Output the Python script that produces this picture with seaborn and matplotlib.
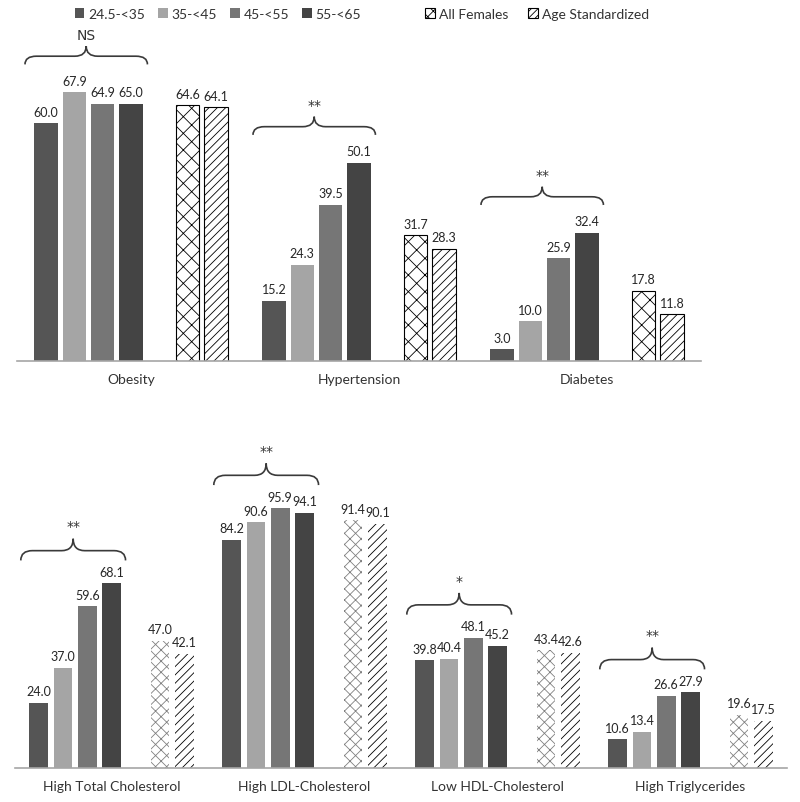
import numpy as np
import pandas as pd
import seaborn as sns
import matplotlib.pyplot as plt
from matplotlib.patches import Patch, PathPatch
from matplotlib.path import Path

# age groups + spacer + summary series
age_groups = ["24.5-<35", "35-<45", "45-<55", "55-<65"]
summary_series = ["All Females", "Age Standardized"]
hue_levels = age_groups + [" "] + summary_series

# top panel
top_cats = ["Obesity", "Hypertension", "Diabetes"]
top_age1 = [60.0, 15.2, 3.0]
top_age2 = [67.9, 24.3, 10.0]
top_age3 = [64.9, 39.5, 25.9]
top_age4 = [65.0, 50.1, 32.4]
top_all = [64.6, 31.7, 17.8]
top_std = [64.1, 28.3, 11.8]
top_sig = ["NS", "**", "**"]

# bottom panel
bot_cats = ["High Total Cholesterol", "High LDL-Cholesterol",
            "Low HDL-Cholesterol", "High Triglycerides"]
bot_age1 = [24.0, 84.2, 39.8, 10.6]
bot_age2 = [37.0, 90.6, 40.4, 13.4]
bot_age3 = [59.6, 95.9, 48.1, 26.6]
bot_age4 = [68.1, 94.1, 45.2, 27.9]
bot_all = [47.0, 91.4, 43.4, 19.6]
bot_std = [42.1, 90.1, 42.6, 17.5]
bot_sig = ["**", "**", "*", "**"]

colors = {"24.5-<35": "#555555", "35-<45": "#a5a5a5", "45-<55": "#767676",
          "55-<65": "#444444", " ": "white", "All Females": "white",
          "Age Standardized": "white"}


def make_df(cats, series_vals):
    rows = []
    for name, vals in zip(age_groups + summary_series, series_vals):
        for c, v in zip(cats, vals):
            rows.append({"cat": c, "group": name, "value": v})
    return pd.DataFrame(rows)


def brace(ax, x0, x1, y0, h, r):
    xm = (x0 + x1) / 2
    yh = y0 + h * 0.45
    verts = [(x0, y0), (x0, yh), (x0 + r, yh),
             (xm - r, yh),
             (xm, yh), (xm, y0 + h),
             (xm, yh), (xm + r, yh),
             (x1 - r, yh),
             (x1, yh), (x1, y0)]
    codes = [Path.MOVETO, Path.CURVE3, Path.CURVE3,
             Path.LINETO,
             Path.CURVE3, Path.CURVE3,
             Path.CURVE3, Path.CURVE3,
             Path.LINETO,
             Path.CURVE3, Path.CURVE3]
    ax.add_patch(PathPatch(Path(verts, codes), facecolor="none",
                           edgecolor="#3a3a3a", lw=1.2, clip_on=False))


def draw_panel(ax, cats, series_vals, sig, width, gap, ymax, top_style,
               brace_off, brace_h, r):
    df = make_df(cats, series_vals)
    sns.barplot(data=df, x="cat", y="value", hue="group", hue_order=hue_levels,
                order=cats, palette=colors, width=width, gap=gap,
                errorbar=None, edgecolor="none", legend=False, ax=ax)
    conts = ax.containers
    names = hue_levels if len(conts) == len(hue_levels) else age_groups + summary_series
    for name, cont in zip(names, conts):
        if len(cont) == 0:
            continue
        if name == "All Females":
            for p in cont:
                p.set_facecolor("white")
                if top_style:
                    p.set_edgecolor("black")
                    p.set_linewidth(0.8)
                    p.set_hatch("xx")
                else:
                    p.set_edgecolor("#808080")
                    p.set_linewidth(0)
                    p.set_hatch("xxx")
        elif name == "Age Standardized":
            for p in cont:
                p.set_facecolor("white")
                p.set_edgecolor("black")
                p.set_linewidth(0.8 if top_style else 0)
                p.set_hatch("////")
        ax.bar_label(cont, fmt="%.1f", padding=4, fontsize=9, color="#262626")

    # significance braces over age bars
    slot = width / len(hue_levels)
    for j in range(len(cats)):
        x0 = j - width / 2 - 0.03
        x1 = j - width / 2 + 4 * slot + 0.01
        top = max(v[j] for v in series_vals[:4])
        y0 = top + brace_off
        brace(ax, x0, x1, y0, brace_h, r)
        ax.text((x0 + x1) / 2, y0 + brace_h + brace_h * 0.25, sig[j],
                ha="center", va="bottom", fontsize=10, color="#333333",
                family=["DejaVu Sans"])

    ax.set_ylim(0, ymax)
    ax.set_xlim(-0.5, len(cats) - 0.5)
    ax.set_xlabel("")
    ax.set_ylabel("")
    ax.set_yticks([])
    for s in ["top", "left", "right"]:
        ax.spines[s].set_visible(False)
    ax.spines["bottom"].set_color("#a6a6a6")
    ax.spines["bottom"].set_linewidth(1.2)
    ax.tick_params(axis="x", length=0, pad=9, labelsize=10, labelcolor="#333333")


sns.set_style("white")
plt.rcParams["font.family"] = ["Lato", "DejaVu Sans"]
plt.rcParams["hatch.linewidth"] = 0.6

fig = plt.figure(figsize=(8, 8.03), dpi=100)
ax_top = fig.add_axes([17 / 800, 441 / 803, 684 / 800, 85 * 3.96 / 803])
ax_bot = fig.add_axes([15 / 800, 34 / 803, 772 / 800, 115 * 2.71 / 803])

draw_panel(ax_top, top_cats,
           [top_age1, top_age2, top_age3, top_age4, top_all, top_std],
           top_sig, width=0.87, gap=0.18, ymax=85, top_style=True,
           brace_off=7.0, brace_h=4.6, r=0.05)
draw_panel(ax_bot, bot_cats,
           [bot_age1, bot_age2, bot_age3, bot_age4, bot_all, bot_std],
           bot_sig, width=0.88, gap=0.22, ymax=115, top_style=False,
           brace_off=8.5, brace_h=8.0, r=0.06)

# legends
h1 = [Patch(facecolor=colors[g], edgecolor="none") for g in age_groups]
leg1 = fig.legend(h1, age_groups, loc="center", bbox_to_anchor=(218 / 800, 1 - 15 / 803),
                  ncol=4, frameon=False, fontsize=10, handlelength=0.7,
                  handleheight=0.7, handletextpad=0.3, columnspacing=0.9)
h2 = [Patch(facecolor="white", edgecolor="black", hatch="xxx", linewidth=0.8),
      Patch(facecolor="white", edgecolor="black", hatch="/////", linewidth=0.8)]
leg2 = fig.legend(h2, summary_series, loc="center", bbox_to_anchor=(537 / 800, 1 - 15 / 803),
                  ncol=2, frameon=False, fontsize=10, handlelength=0.7,
                  handleheight=0.7, handletextpad=0.3, columnspacing=1.4)
for leg in (leg1, leg2):
    for t in leg.get_texts():
        t.set_color("#333333")

fig.savefig("out.png", dpi=100)
